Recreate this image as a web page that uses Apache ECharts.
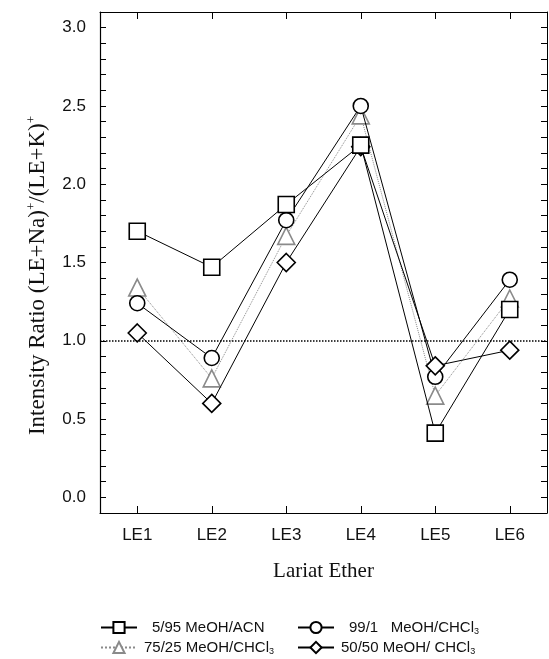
<!DOCTYPE html>
<html>
<head>
<meta charset="utf-8">
<script src="https://cdn.jsdelivr.net/npm/echarts@6/dist/echarts.min.js"></script>
<style>
  html, body { margin: 0; padding: 0; background: #fff; }
  #chart { width: 549px; height: 659px; }
</style>
</head>
<body>
<div id="chart"></div>
<script>
// data
const categories = ['LE1', 'LE2', 'LE3', 'LE4', 'LE5', 'LE6']
const acn595 = [1.70, 1.47, 1.87, 2.25, 0.41, 1.20]       // squares
const chcl991 = [1.24, 0.89, 1.77, 2.50, 0.77, 1.39]      // circles
const chcl7525 = [1.34, 0.76, 1.67, 2.44, 0.65, 1.27]     // triangles
const chcl5050 = [1.05, 0.60, 1.50, 2.24, 0.84, 0.94]     // diamonds
const refLine = 1.0
const yLabels = [0.0, 0.5, 1.0, 1.5, 2.0, 2.5, 3.0]

const names = ['5/95 MeOH/ACN', '99/1   MeOH/CHCl3', '75/25 MeOH/CHCl3', '50/50 MeOH/ CHCl3']

const sans = 'Liberation Sans'
const serif = 'Liberation Serif'

const chart = echarts.init(document.getElementById('chart'))

// legend text with the "3" as a subscript
function legendFmt(name) {
  if (name.endsWith('CHCl3')) {
    return '{a|' + name.slice(0, -1) + '}{s|3}'
  }
  return '{a|' + name + '}'
}
const legendRich = {
  a: { fontFamily: sans, fontSize: 15, color: '#111' },
  s: { fontFamily: sans, fontSize: 9, color: '#111', verticalAlign: 'bottom', padding: [8, 0, 0, 0] },
}
function makeLegend(name, left, top, gap) {
  return {
    data: [name],
    left: left,
    top: top,
    orient: 'horizontal',
    itemWidth: 36,
    itemHeight: 14,
    padding: 0,
    formatter: legendFmt,
    textStyle: { rich: legendRich, padding: [0, 0, 0, gap] },
  }
}

function lineSeries(name, data, symbol, size, color, lineType, z) {
  return {
    name: name,
    type: 'line',
    data: data,
    symbol: symbol,
    symbolSize: size,
    showSymbol: true,
    z: z,
    lineStyle: { color: color, width: 1, type: lineType },
    itemStyle: { color: '#fff', borderColor: color, borderWidth: 1.6 },
    emphasis: { disabled: true },
  }
}

const triSeries = lineSeries(names[2], chcl7525, 'triangle', 17, '#8a8a8a', 'dotted', 2)
triSeries.markLine = {
  silent: true,
  symbol: 'none',
  label: { show: false },
  lineStyle: { color: '#000', type: 'dotted', width: 1.5 },
  data: [{ yAxis: refLine }],
}

const tickStyle = { show: true, inside: true, length: 6, lineStyle: { color: '#000', width: 1 } }

chart.setOption({
  animation: false,
  backgroundColor: '#fff',
  grid: { left: 100, right: 2, top: 12, bottom: 146 },
  legend: [
    makeLegend(names[0], 100, 620, 10),
    makeLegend(names[1], 297, 620, 10),
    makeLegend(names[2], 100, 640, 2),
    makeLegend(names[3], 297, 640, 2),
  ],
  xAxis: [
    {
      type: 'category',
      data: categories,
      boundaryGap: true,
      name: 'Lariat Ether',
      nameLocation: 'middle',
      nameGap: 48,
      nameTextStyle: { fontFamily: serif, fontSize: 21, color: '#111' },
      axisLine: { onZero: false, lineStyle: { color: '#000', width: 1.2 } },
      axisTick: { show: true, inside: true, alignWithLabel: true, length: 7, lineStyle: { color: '#000' } },
      axisLabel: { fontFamily: sans, fontSize: 17, color: '#111', margin: 14 },
      splitLine: { show: false },
    },
    {
      type: 'category',
      data: categories,
      boundaryGap: true,
      position: 'top',
      axisLine: { onZero: false, lineStyle: { color: '#000', width: 1 } },
      axisTick: { show: true, inside: true, alignWithLabel: true, length: 7, lineStyle: { color: '#000' } },
      axisLabel: { show: false },
      splitLine: { show: false },
    },
  ],
  yAxis: [
    {
      type: 'value',
      min: -0.1,
      max: 3.1,
      interval: 0.1,
      name: '{a|Intensity Ratio (LE+Na)}{s|+}{a|/(LE+K)}{s|+}',
      nameLocation: 'middle',
      nameGap: 50,
      nameTextStyle: {
        padding: [0, 26, 0, 0],
        rich: {
          a: { fontFamily: serif, fontSize: 23, color: '#111' },
          s: { fontFamily: serif, fontSize: 13, color: '#111', verticalAlign: 'top', padding: [0, 0, 12, 0] },
        },
      },
      axisLine: { show: true, onZero: false, lineStyle: { color: '#000', width: 1.2 } },
      axisTick: tickStyle,
      axisLabel: {
        fontFamily: sans,
        fontSize: 17,
        color: '#111',
        margin: 14,
        formatter: function (v) {
          const r = Math.round(v * 10) / 10
          return yLabels.some((l) => Math.abs(l - r) < 1e-6) ? r.toFixed(1) : ''
        },
      },
      splitLine: { show: false },
    },
    {
      type: 'value',
      min: -0.1,
      max: 3.1,
      interval: 0.1,
      position: 'right',
      axisLine: { show: true, onZero: false, lineStyle: { color: '#000', width: 1 } },
      axisTick: tickStyle,
      axisLabel: { show: false },
      splitLine: { show: false },
    },
  ],
  series: [
    triSeries,
    lineSeries(names[1], chcl991, 'circle', 15, '#000', 'solid', 3),
    lineSeries(names[3], chcl5050, 'diamond', 18, '#000', 'solid', 4),
    lineSeries(names[0], acn595, 'rect', 16, '#000', 'solid', 5),
  ],
})
</script>
</body>
</html>
